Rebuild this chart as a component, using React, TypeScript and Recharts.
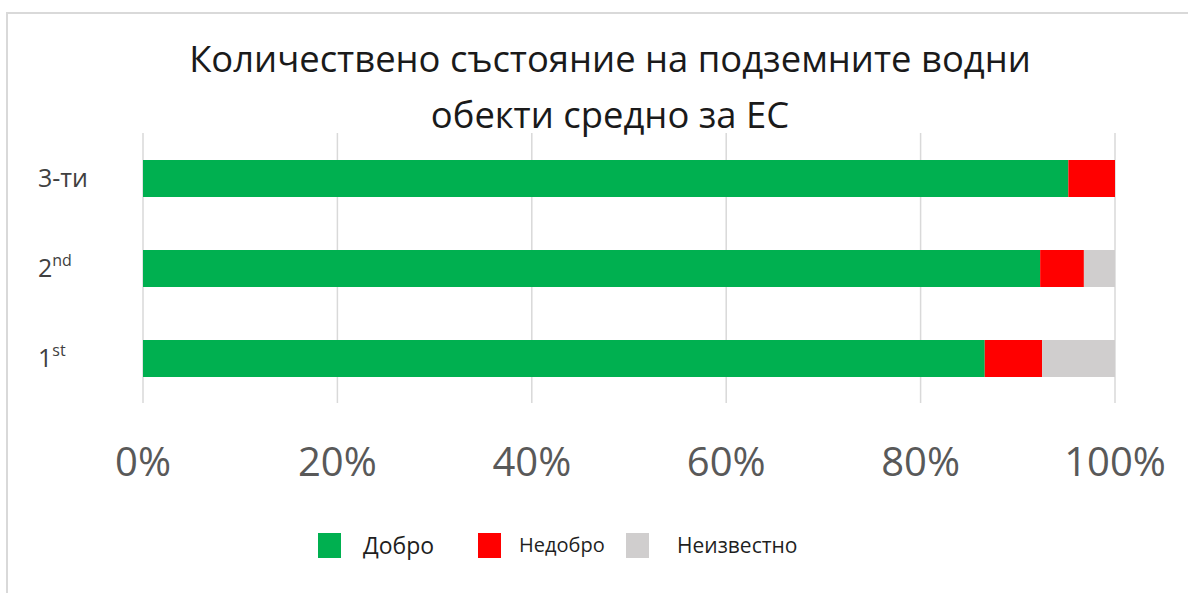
import { BarChart, Bar, XAxis, YAxis, CartesianGrid, Legend } from 'recharts';

const categories = ['3-ти', '2nd', '1st'];
const dobro = [0.952, 0.923, 0.866];
const nedobro = [0.048, 0.045, 0.059];
const neizvestno = [0, 0.032, 0.075];
const xTicks = [0, 0.2, 0.4, 0.6, 0.8, 1];

const SERIES = [
  { key: 'dobro', name: 'Добро', color: '#00B050' },
  { key: 'nedobro', name: 'Недобро', color: '#FF0000' },
  { key: 'neizvestno', name: 'Неизвестно', color: '#D0CECE' },
];

const data = categories.map((c, i) => ({
  name: c,
  dobro: dobro[i],
  nedobro: nedobro[i],
  neizvestno: neizvestno[i],
}));

const FONT = '"Open Sans", "Noto Sans", sans-serif';

// category labels, "2nd" / "1st" carry a superscript suffix
const CategoryTick = ({ y, payload }: { y?: number; payload?: { value: string } }) => {
  const v = payload?.value ?? '';
  const m = v.match(/^(\d)(st|nd|rd|th)$/);
  return (
    <text x={38} y={y} dy={9} fill="#404040" fontSize={25} fontFamily={FONT} textAnchor="start">
      {m ? (
        <>
          <tspan>{m[1]}</tspan>
          <tspan fontSize={16} dy={-11}>{m[2]}</tspan>
        </>
      ) : (
        v
      )}
    </text>
  );
};

const legendItems = [
  { ...SERIES[0], box: 318, text: 363, size: 23 },
  { ...SERIES[1], box: 478, text: 519, size: 20 },
  { ...SERIES[2], box: 626, text: 677, size: 21 },
];

const LegendContent = () => (
  <div style={{ position: 'relative', width: 1188, height: 50 }}>
    {legendItems.map((it) => (
      <div key={it.key}>
        <div
          style={{
            position: 'absolute',
            left: it.box,
            top: 13,
            width: 23,
            height: 25,
            background: it.color,
          }}
        />
        <div
          style={{
            position: 'absolute',
            left: it.text,
            top: 10,
            fontSize: it.size,
            fontFamily: FONT,
            color: '#1f1f1f',
            lineHeight: '30px',
            whiteSpace: 'nowrap',
          }}
        >
          {it.name}
        </div>
      </div>
    ))}
  </div>
);

export default function App() {
  return (
    <div style={{ position: 'absolute', left: 0, top: 0, width: 1188, height: 593, background: '#fff', overflow: 'hidden' }}>
      <div
        style={{
          position: 'absolute',
          left: 6,
          top: 12,
          width: 1220,
          height: 620,
          border: '2px solid #d9d9d9',
        }}
      />
      <div
        style={{
          position: 'absolute',
          left: 0,
          top: 30,
          width: 1220,
          textAlign: 'center',
          fontFamily: FONT,
          fontSize: 36.4,
          lineHeight: '56px',
          color: '#1a1a1a',
        }}
      >
        Количествено състояние на подземните водни
        <br />
        обекти средно за ЕС
      </div>
      <BarChart
        width={1188}
        height={593}
        data={data}
        layout="vertical"
        margin={{ top: 133, right: 73, bottom: 80, left: 0 }}
        barSize={37}
        style={{ position: 'absolute', left: 0, top: 0 }}
      >
        <CartesianGrid horizontal={false} stroke="#d9d9d9" strokeWidth={1.5} />
        <XAxis
          type="number"
          domain={[0, 1]}
          ticks={xTicks}
          tickFormatter={(v: number) => `${Math.round(v * 100)}%`}
          axisLine={false}
          tickLine={false}
          tickMargin={39}
          height={60}
          interval={0}
          tick={{ fill: '#595959', fontSize: 40, fontFamily: FONT }}
        />
        <YAxis
          type="category"
          dataKey="name"
          width={143}
          axisLine={false}
          tickLine={false}
          interval={0}
          tick={<CategoryTick />}
        />
        <Legend
          content={<LegendContent />}
          wrapperStyle={{ position: 'absolute', left: 0, top: 520, width: 1188, height: 50 }}
        />
        {SERIES.map((s) => (
          <Bar key={s.key} dataKey={s.key} name={s.name} stackId="a" fill={s.color} isAnimationActive={false} />
        ))}
      </BarChart>
    </div>
  );
}
